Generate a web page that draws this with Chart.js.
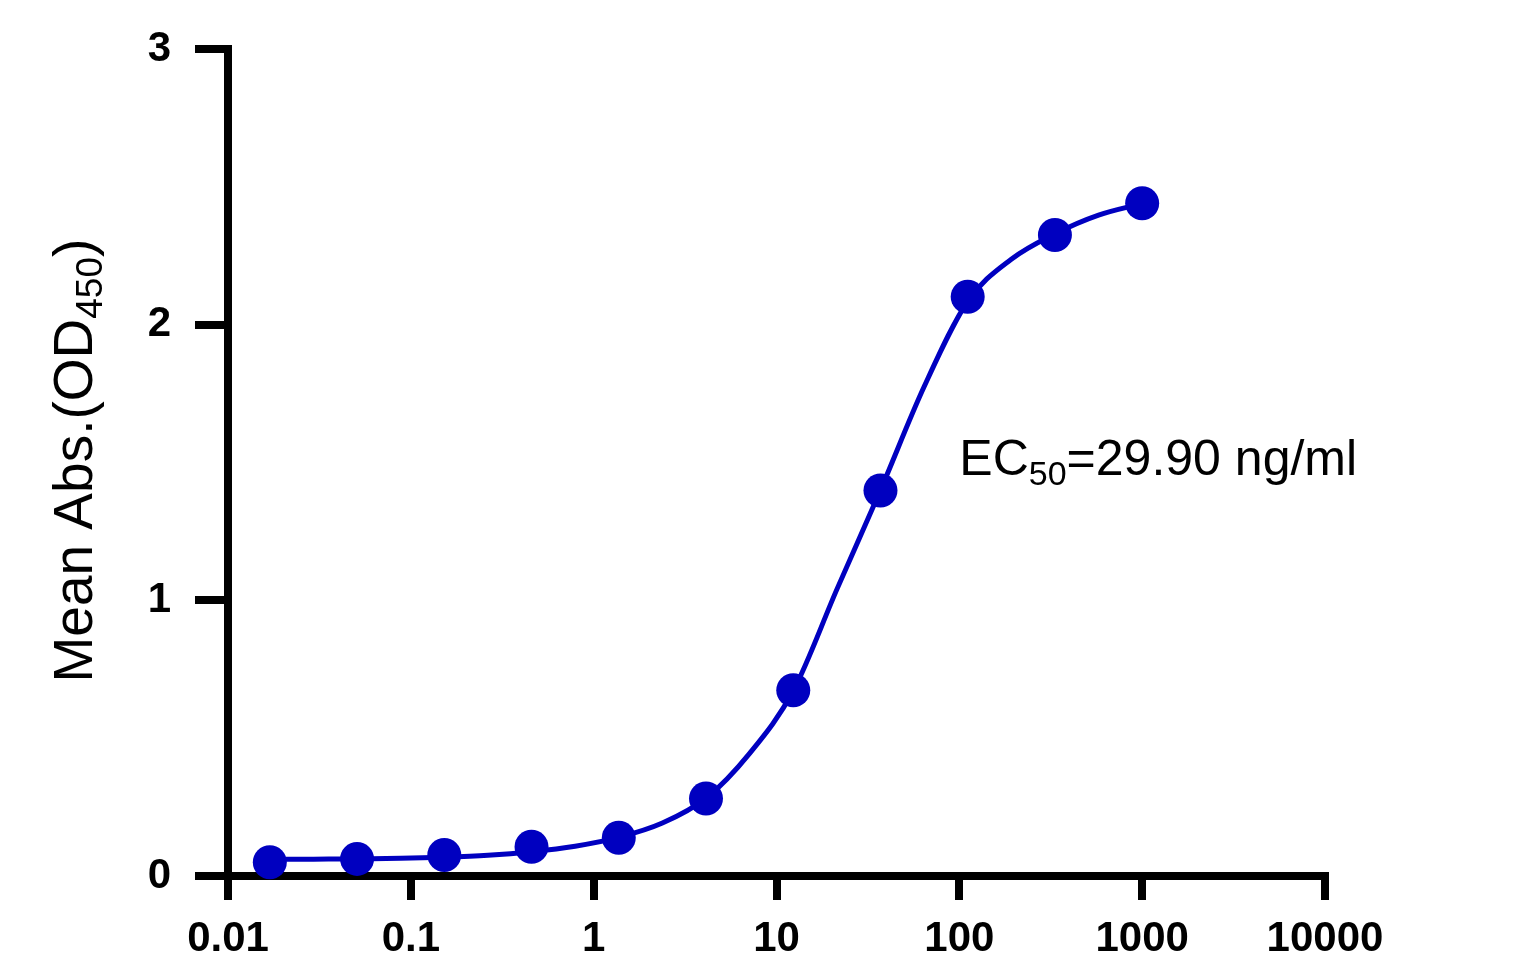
<!DOCTYPE html>
<html>
<head>
<meta charset="utf-8">
<script src="https://cdn.jsdelivr.net/npm/chart.js@4/dist/chart.umd.min.js"></script>
<style>
  html, body { margin: 0; padding: 0; background: #fff; }
  #wrap { width: 1515px; height: 976px; position: relative; }
</style>
</head>
<body>
<div id="wrap"><canvas id="c" width="1515" height="976"></canvas></div>
<script>
const concentrations = [0.01693, 0.05081, 0.1524, 0.4572, 1.372, 4.115, 12.35, 37.04, 111.1, 333.3, 1000];
const meanAbs        = [0.050, 0.062, 0.076, 0.106, 0.139, 0.281, 0.674, 1.399, 2.102, 2.326, 2.441];
// ---- fitted curve, sampled by eye from the reference ----
const curveX = [0.01693, 0.02932, 0.05081, 0.0880, 0.1524, 0.264, 0.4572, 0.792, 1.372, 2.376, 4.115, 7.13, 12.35, 21.39, 37.04, 64.15, 111.1, 192.4, 333.3, 577.4, 1000];
const curveY = [0.060, 0.061, 0.062, 0.064, 0.068, 0.075, 0.088, 0.108, 0.140, 0.192, 0.282, 0.445, 0.672, 1.040, 1.400, 1.775, 2.085, 2.238, 2.330, 2.398, 2.440];
const xTickValues = [0.01, 0.1, 1, 10, 100, 1000, 10000];
const xTickLabels = ['0.01', '0.1', '1', '10', '100', '1000', '10000'];
const yTickValues = [0, 1, 2, 3];
const yTickLabels = ['0', '1', '2', '3'];
const yTitleMain = 'Mean Abs.(OD';
const yTitleSub = '450';
const yTitleEnd = ')';
const ecMain = 'EC';
const ecSub = '50';
const ecRest = '=29.90 ng/ml';
const ecAnchor = { x: 100, y: 1.455 }; // data position of the annotation (left, baseline)

const BLUE = '#0000c0';
const FONT = '"Liberation Sans", Arial, sans-serif';

const points = concentrations.map((c, i) => ({ x: c, y: meanAbs[i] }));
const curve = curveX.map((c, i) => ({ x: c, y: curveY[i] }));

const textPlugin = {
  id: 'texts',
  afterDraw(chart) {
    const ctx = chart.ctx;
    const area = chart.chartArea;
    ctx.save();
    ctx.fillStyle = '#000';
    ctx.textBaseline = 'alphabetic';
    ctx.textAlign = 'left';
    // y-axis title, rotated
    const mainSize = 55, subSize = 37;
    ctx.font = mainSize + 'px ' + FONT;
    const w1 = ctx.measureText(yTitleMain).width;
    const w3 = ctx.measureText(yTitleEnd).width;
    ctx.font = subSize + 'px ' + FONT;
    const w2 = ctx.measureText(yTitleSub).width;
    const total = w1 + w2 + w3;
    const cy = (area.top + area.bottom) / 2;
    ctx.translate(92, cy + total / 2 - 2);
    ctx.rotate(-Math.PI / 2);
    ctx.font = mainSize + 'px ' + FONT;
    ctx.fillText(yTitleMain, 0, 0);
    ctx.font = subSize + 'px ' + FONT;
    ctx.fillText(yTitleSub, w1, 10);
    ctx.font = mainSize + 'px ' + FONT;
    ctx.fillText(yTitleEnd, w1 + w2, 0);
    ctx.restore();

    // EC50 annotation
    ctx.save();
    ctx.fillStyle = '#000';
    ctx.textBaseline = 'alphabetic';
    const xs = chart.scales.x, ys = chart.scales.y;
    let px = xs.getPixelForValue(ecAnchor.x);
    const py = ys.getPixelForValue(ecAnchor.y);
    const m = 50, s = 34;
    ctx.font = m + 'px ' + FONT;
    ctx.fillText(ecMain, px, py);
    px += ctx.measureText(ecMain).width;
    ctx.font = s + 'px ' + FONT;
    ctx.fillText(ecSub, px, py + 10);
    px += ctx.measureText(ecSub).width;
    ctx.font = m + 'px ' + FONT;
    ctx.fillText(ecRest, px, py);
    ctx.restore();
  }
};

new Chart(document.getElementById('c'), {
  type: 'scatter',
  data: {
    datasets: [
      {
        type: 'scatter',
        data: points,
        pointRadius: 17,
        pointHoverRadius: 17,
        backgroundColor: BLUE,
        borderWidth: 0,
        pointBorderWidth: 0,
        clip: false,
        order: 0
      },
      {
        type: 'line',
        data: curve,
        borderColor: BLUE,
        backgroundColor: BLUE,
        borderWidth: 5,
        pointRadius: 0,
        fill: false,
        cubicInterpolationMode: 'monotone',
        clip: false,
        order: 1
      }
    ]
  },
  options: {
    responsive: false,
    animation: false,
    devicePixelRatio: 1,
    layout: { padding: { left: 0, right: 190, top: 44, bottom: 0 } },
    plugins: { legend: { display: false }, tooltip: { enabled: false }, title: { display: false } },
    scales: {
      x: {
        type: 'logarithmic',
        min: 0.01,
        max: 10000,
        afterBuildTicks(scale) { scale.ticks = xTickValues.map(v => ({ value: v, major: true })); },
        afterFit(scale) { scale.height = 100; },
        ticks: {
          autoSkip: false,
          maxRotation: 0,
          padding: 14,
          color: '#000',
          font: { family: FONT, size: 42, weight: 'bold' },
          callback(value) { const i = xTickValues.indexOf(value); return i >= 0 ? xTickLabels[i] : ''; }
        },
        grid: { drawOnChartArea: false, drawTicks: true, tickLength: 24, tickWidth: 8, tickColor: '#000', color: '#000', lineWidth: 8 },
        border: { display: true, width: 8, color: '#000' }
      },
      y: {
        type: 'linear',
        min: 0,
        max: 3,
        afterBuildTicks(scale) { scale.ticks = yTickValues.map(v => ({ value: v })); },
        afterFit(scale) { scale.width = 228; },
        ticks: {
          padding: 24,
          color: '#000',
          font: { family: FONT, size: 42, weight: 'bold' },
          callback(value) { const i = yTickValues.indexOf(value); return i >= 0 ? yTickLabels[i] : ''; }
        },
        grid: { drawOnChartArea: false, drawTicks: true, tickLength: 33, tickWidth: 8, tickColor: '#000', color: '#000', lineWidth: 8 },
        border: { display: true, width: 8, color: '#000' }
      }
    }
  },
  plugins: [textPlugin]
});
</script>
</body>
</html>
